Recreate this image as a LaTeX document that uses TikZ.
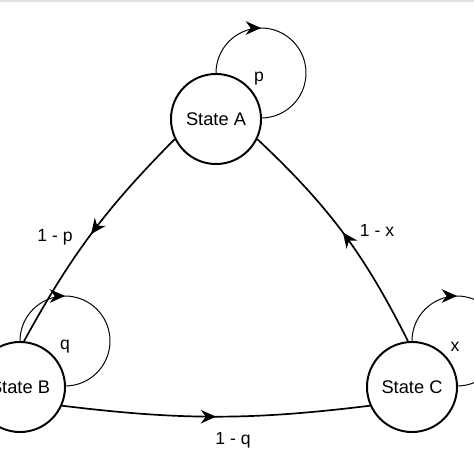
\documentclass[tikz,border=0pt]{standalone}
\usepackage{fontspec}
\setmainfont{Liberation Sans}
\usetikzlibrary{arrows.meta, decorations.markings}

\tikzset{
  state/.style = {draw, circle, line width = 1.4pt, minimum size = 2.25cm, inner sep = 0pt, font = \fontsize{13}{15}\selectfont},
  midarrow/.style = {postaction = {decorate, decoration = {markings, mark = at position #1 with {\arrow{Stealth[length = 3.8mm, width = 3.4mm]}}}}},
  trans/.style = {line width = 1.2pt},
  selfloop/.style = {line width = 0.7pt},
  lbl/.style = {font = \fontsize{12.5}{15}\selectfont}
}

\begin{document}
\begin{tikzpicture}[x = 0.025cm, y = 0.025cm]
            \useasboundingbox (0, 0) rectangle (474, 474);
            \clip (0, 0) rectangle (474, 474);
            \fill [black!12] (0, 472) rectangle (474, 474);
            \node [state] (A) at (216, 355) {State A};
            \node [state] (B) at (20, 87) {State B};
            \node [state] (C) at (412, 87) {State C};
            % self loops
            \draw [selfloop, midarrow = 0.333] (A.north) arc [start angle = 180, end angle = -90, radius = 45];
            \draw [selfloop, midarrow = 0.333] (B.north) arc [start angle = 180, end angle = -90, radius = 45];
            \draw [selfloop, midarrow = 0.333] (C.north) arc [start angle = 180, end angle = -90, radius = 45];
            % transitions
            \draw [trans, midarrow = 0.5] (A.206) to [bend right = 8] (B.85);
            \draw [trans, midarrow = 0.5] (B.336) to [bend right = 7] (C.204);
            \draw [trans, midarrow = 0.5] (C.95) to [bend right = 10] (A.334);
            % labels
            \node [lbl] (p) at (259, 395) {p};
            \node [lbl] (q) at (65, 127) {q};
            \node [lbl] (x) at (455, 127) {x};
            \node [lbl] (pab) at (55, 237) {1 - p};
            \node [lbl] (pca) at (377, 244) {1 - x};
            \node [lbl] (pbc) at (233, 34) {1 - q};
\end{tikzpicture}
\end{document}
